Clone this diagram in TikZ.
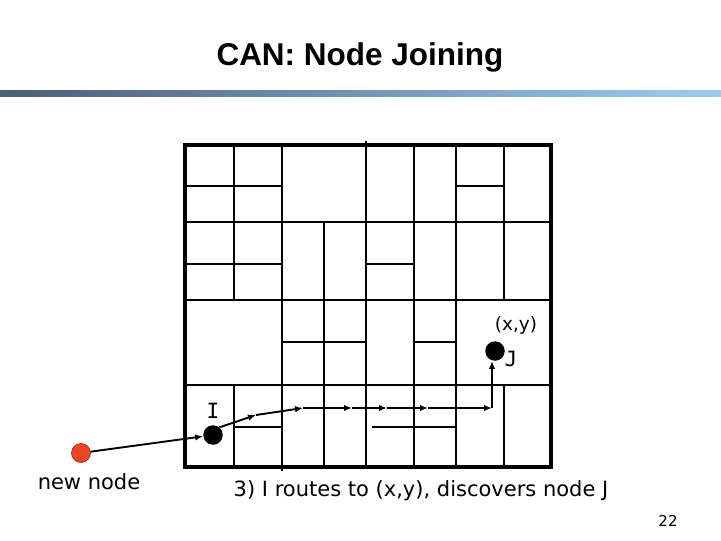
\documentclass[tikz,border=0pt]{standalone}
\usepackage{fontspec}
\setmainfont{DejaVu Sans}
\newfontfamily\titlefont{Liberation Sans}
\newfontfamily\labelmono{DejaVu Sans Mono}
\usetikzlibrary{arrows.meta,positioning}
\definecolor{BarDark}{HTML}{4A5E78}
\definecolor{BarLight}{HTML}{9CCBF8}
\definecolor{NewRed}{HTML}{EE4422}
\definecolor{NewEdge}{HTML}{8A2A10}
\tikzset{zone/.style={line width=1.5pt,draw=black},space/.style={line width=4.5pt,draw=black},peer/.style={circle,fill=black,minimum size=19.5pt,inner sep=0pt},joiner/.style={circle,fill=NewRed,draw=NewEdge,line width=.6pt,minimum size=19pt,inner sep=0pt},hop/.style={-{Latex[length=8pt,width=6.5pt]},line width=1.9pt},txt/.style={font=\fontsize{21}{24}\selectfont,inner sep=0pt},tag/.style={font=\labelmono\fontsize{21}{24}\selectfont,inner sep=0pt}}

\begin{document}
\begin{tikzpicture}[x=1pt,y=-1pt]
        \useasboundingbox (0,0) rectangle (721,541);
        \node[font=\titlefont\bfseries\fontsize{31.5}{36}\selectfont] (title) at (360,57){CAN: Node Joining};
        \shade[left color=BarDark,right color=BarLight] (0,90) rectangle (721,96);
        % zones
        \foreach \x/\ya/\yb in {234/145/300,234/385/467,282/145/471,324/222/467,366/141/467,414/145/467,456/145/467,504/145/300,504/385/467}
          \draw[zone] (\x,\ya)--(\x,\yb);
        \foreach \y/\xa/\xb in {186/185/282,186/456/504,222/185/551,264/185/282,264/366/414,300/185/551,342/282/366,342/414/456,385/185/551,427/234/282,427/372/456}
          \draw[zone] (\xa,\y)--(\xb,\y);
        \draw[space] (185,145) rectangle (551,467);
        % nodes
        \node[joiner] (newnode) at (81,453){};
        \node[peer] (nodeI) at (213,435){};
        \node[peer] (nodeJ) at (495,351){};
        \node[tag] (labI) at (213,411){I};
        \node[tag] (labJ) at (511,359){J};
        \node[font=\fontsize{18.5}{22}\selectfont,inner sep=0pt] (point) at (516,325){(x,y)};
        \node[txt] (newlab) at (89,482){new node};
        \node[txt] (caption) at (421,491){3) I routes to (x,y), discovers node J};
        \node[font=\fontsize{15}{18}\selectfont,inner sep=0pt] (page) at (668,521){22};
        % route
        \coordinate (p1) at (256,415);
        \coordinate (p2) at (303,408);
        \coordinate (p3) at (352,408);
        \coordinate (p4) at (387,408);
        \coordinate (p5) at (428,408);
        \coordinate (p6) at (492,408);
        \draw[hop] (newnode)--(nodeI);
        \draw[hop] (nodeI.50)--(p1);
        \draw[hop] (p1)--(p2);
        \draw[hop] (p2)--(p3);
        \draw[hop] (p3)--(p4);
        \draw[hop] (p4)--(p5);
        \draw[hop] (p5)--(p6);
        \draw[hop] (p6)--(p6|-nodeJ.south);
      \end{tikzpicture}
\end{document}
